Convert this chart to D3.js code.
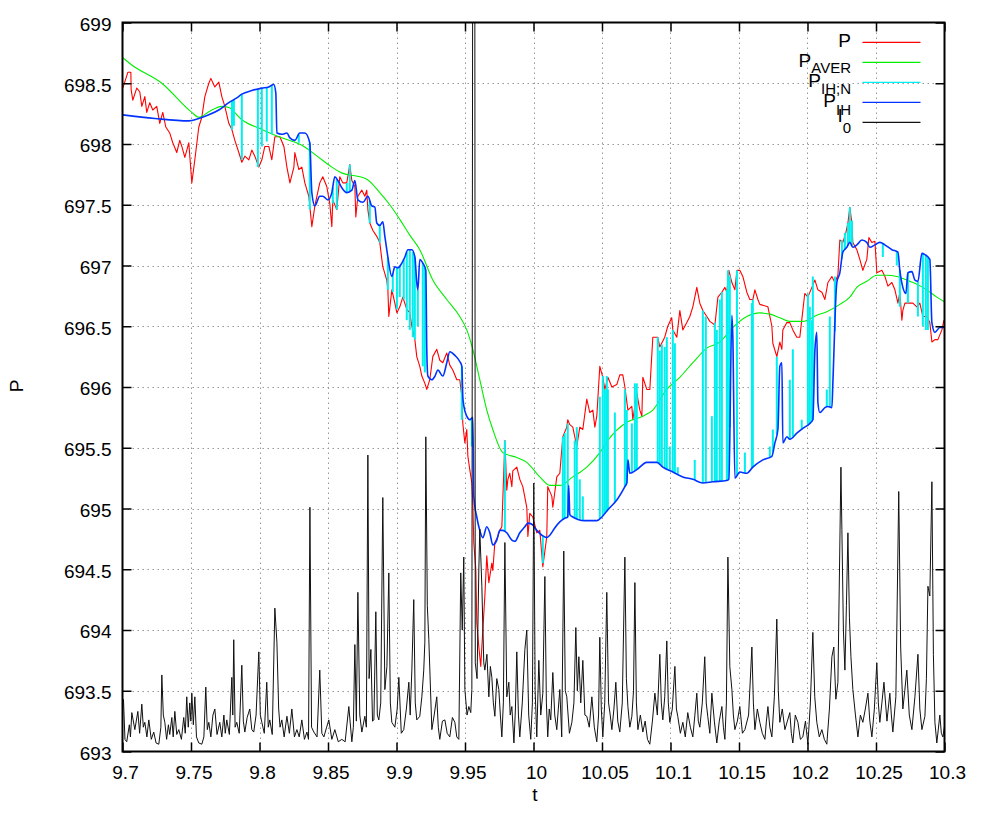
<!DOCTYPE html>
<html><head><meta charset="utf-8">
<script src="https://cdn.jsdelivr.net/npm/d3@7"></script>
<style>
body{margin:0;background:#fff}
svg{display:block}
text{font-family:"Liberation Sans",Arial,Helvetica,sans-serif}
</style>
</head><body><svg id="c" width="981" height="816"></svg>
<script>
// ---------------- data ----------------
const xTickValues = [9.7, 9.75, 9.8, 9.85, 9.9, 9.95, 10, 10.05, 10.1, 10.15, 10.2, 10.25, 10.3];
const xTickLabels = ["9.7","9.75","9.8","9.85","9.9","9.95","10","10.05","10.1","10.15","10.2","10.25","10.3"];
const yTickValues = [693, 693.5, 694, 694.5, 695, 695.5, 696, 696.5, 697, 697.5, 698, 698.5, 699];
const yTickLabels = ["693","693.5","694","694.5","695","695.5","696","696.5","697","697.5","698","698.5","699"];
const xLabel = "t";
const yLabel = "P";
const legendLabels = [["P",""],["P","AVER"],["P","IH;N"],["P","IH"],["I","0"]];

// P (red)
const seriesP = [
[9.7002,698.46],[9.7039,698.59],[9.7061,698.59],[9.7063,698.45],[9.7075,698.36],[9.7104,698.46],[9.7126,698.43],[9.7141,698.31],
[9.7163,698.39],[9.7177,698.26],[9.7199,698.34],[9.7221,698.28],[9.7250,698.31],[9.7272,698.17],[9.7294,698.26],[9.7316,698.14],
[9.7345,698.09],[9.7367,698.01],[9.7396,697.93],[9.7418,698.03],[9.7433,697.98],[9.7455,697.89],[9.7484,698.01],[9.7506,697.68],
[9.7528,697.87],[9.7557,698.14],[9.7579,698.22],[9.7601,698.39],[9.7630,698.50],[9.7645,698.54],[9.7674,698.47],[9.7703,698.51],
[9.7725,698.39],[9.7747,698.31],[9.7776,698.17],[9.7798,698.12],[9.7820,698.03],[9.7849,697.93],[9.7871,697.85],[9.7893,697.90],
[9.7922,697.87],[9.7944,697.95],[9.7966,697.90],[9.7995,697.81],[9.8017,697.87],[9.8039,697.98],[9.8068,697.98],[9.8090,697.87],
[9.8112,698.06],[9.8149,698.06],[9.8178,697.98],[9.8200,697.81],[9.8222,697.68],[9.8251,697.81],[9.8258,697.93],[9.8287,697.79],
[9.8309,697.81],[9.8331,697.68],[9.8360,697.57],[9.8382,697.32],[9.8404,697.49],[9.8440,697.68],[9.8462,697.73],[9.8491,697.65],
[9.8513,697.51],[9.8528,697.32],[9.8535,697.54],[9.8564,697.46],[9.8586,697.73],[9.8608,697.68],[9.8637,697.68],[9.8659,697.83],
[9.8674,697.70],[9.8696,697.65],[9.8703,697.40],[9.8718,697.57],[9.8747,697.62],[9.8769,697.57],[9.8783,697.62],[9.8791,697.46],
[9.8805,697.35],[9.8827,697.29],[9.8856,697.24],[9.8878,697.19],[9.8893,697.05],[9.8900,696.99],[9.8929,696.88],[9.8937,696.80],
[9.8944,696.58],[9.8966,696.80],[9.8988,696.69],[9.9003,696.61],[9.9024,696.66],[9.9046,696.74],[9.9075,696.64],[9.9097,696.61],
[9.9112,696.50],[9.9134,696.39],[9.9148,696.25],[9.9170,696.17],[9.9185,696.09],[9.9207,696.03],[9.9221,695.98],[9.9243,696.06],
[9.9265,696.25],[9.9294,696.31],[9.9316,696.22],[9.9338,696.20],[9.9367,696.28],[9.9389,696.18],[9.9411,696.14],[9.9440,696.06],
[9.9462,696.06],[9.9477,695.92],[9.9484,695.70],[9.9499,695.54],[9.9513,695.65],[9.9521,695.43],[9.9535,695.32],[9.9550,695.21],
[9.9557,695.05],[9.9564,694.72],[9.9579,694.50],[9.9586,694.06],[9.9601,693.86],[9.9615,693.70],[9.9630,694.00],[9.9645,694.28],
[9.9659,694.61],[9.9674,694.39],[9.9696,694.55],[9.9703,694.49],[9.9718,694.72],[9.9740,694.77],[9.9754,694.82],[9.9769,694.85],
[9.9791,695.56],[9.9805,695.15],[9.9813,695.24],[9.9827,695.29],[9.9842,695.18],[9.9849,695.31],[9.9878,695.34],[9.9900,695.24],
[9.9922,695.18],[9.9951,695.01],[9.9959,694.77],[9.9973,694.96],[9.9995,694.93],[10.0024,694.80],[10.0046,694.82],[10.0068,694.52],
[10.0097,694.77],[10.0104,695.18],[10.0134,695.10],[10.0141,695.01],[10.0155,695.13],[10.0170,695.26],[10.0192,695.29],[10.0214,695.59],
[10.0243,695.67],[10.0250,695.73],[10.0265,695.69],[10.0287,695.67],[10.0316,695.51],[10.0338,695.67],[10.0360,695.65],[10.0389,695.90],
[10.0411,695.79],[10.0433,695.81],[10.0448,695.67],[10.0462,695.76],[10.0484,696.17],[10.0506,696.08],[10.0521,695.98],[10.0543,696.08],
[10.0572,696.00],[10.0608,696.02],[10.0630,696.10],[10.0652,696.10],[10.0667,696.00],[10.0689,695.81],[10.0718,695.84],[10.0725,695.73],
[10.0754,695.95],[10.0776,695.81],[10.0791,695.76],[10.0798,696.08],[10.0827,695.98],[10.0849,695.98],[10.0871,696.41],[10.0907,696.41],
[10.0922,696.33],[10.0958,696.41],[10.0980,696.50],[10.1009,696.57],[10.1017,696.47],[10.1046,696.41],[10.1068,696.63],[10.1090,696.47],
[10.1119,696.53],[10.1141,696.58],[10.1163,696.66],[10.1192,696.82],[10.1214,696.69],[10.1236,696.63],[10.1265,696.58],[10.1287,696.54],
[10.1324,696.51],[10.1346,696.74],[10.1375,696.78],[10.1397,696.82],[10.1411,696.78],[10.1426,696.96],[10.1448,696.86],[10.1470,696.80],
[10.1485,696.96],[10.1506,696.96],[10.1528,696.91],[10.1557,696.78],[10.1579,696.72],[10.1601,696.72],[10.1616,696.80],[10.1638,696.72],
[10.1652,696.68],[10.1711,696.66],[10.1740,696.50],[10.1747,696.36],[10.1776,696.25],[10.1798,696.37],[10.1813,696.31],[10.1820,696.47],
[10.1849,696.53],[10.1871,696.53],[10.1893,696.47],[10.1922,696.41],[10.1944,696.41],[10.1958,696.55],[10.1980,696.77],[10.2003,696.74],
[10.2032,696.82],[10.2054,696.88],[10.2076,696.80],[10.2105,696.78],[10.2127,696.72],[10.2149,696.86],[10.2178,696.91],[10.2200,696.86],
[10.2222,696.92],[10.2236,697.21],[10.2258,697.19],[10.2280,697.27],[10.2295,697.35],[10.2309,697.48],[10.2324,697.35],[10.2331,697.19],
[10.2360,697.13],[10.2382,697.05],[10.2404,696.96],[10.2433,697.05],[10.2448,697.23],[10.2470,697.19],[10.2492,697.20],[10.2506,696.94],
[10.2543,696.96],[10.2565,696.91],[10.2587,696.83],[10.2616,696.86],[10.2638,696.80],[10.2660,696.69],[10.2674,696.78],[10.2689,696.55],
[10.2696,696.63],[10.2711,696.69],[10.2769,696.69],[10.2798,696.66],[10.2820,696.69],[10.2842,696.58],[10.2871,696.58],[10.2893,696.53],
[10.2908,696.37],[10.2930,696.39],[10.2952,696.39],[10.2981,696.47],[10.2996,696.55]
];

// P_AVER (green)
const seriesAver = [
[9.7002,698.71],[9.7068,698.65],[9.7287,698.50],[9.7506,698.26],[9.7557,698.22],[9.7637,698.27],[9.7725,698.31],[9.7776,698.30],
[9.7871,698.20],[9.8017,698.12],[9.8141,698.06],[9.8309,697.99],[9.8455,697.87],[9.8528,697.81],[9.8586,697.77],[9.8783,697.71],
[9.8878,697.60],[9.8951,697.50],[9.9024,697.38],[9.9097,697.25],[9.9170,697.13],[9.9265,696.88],[9.9367,696.72],[9.9462,696.58],
[9.9513,696.47],[9.9557,696.31],[9.9608,696.06],[9.9659,695.81],[9.9703,695.65],[9.9776,695.46],[9.9878,695.42],[9.9951,695.38],
[10.0046,695.26],[10.0119,695.19],[10.0192,695.19],[10.0287,695.26],[10.0389,695.34],[10.0484,695.46],[10.0542,695.56],[10.0681,695.71],
[10.0798,695.76],[10.0871,695.81],[10.0973,695.98],[10.1068,696.08],[10.1163,696.20],[10.1265,696.32],[10.1360,696.37],[10.1455,696.49],
[10.1557,696.58],[10.1652,696.61],[10.1725,696.60],[10.1798,696.57],[10.1871,696.54],[10.1966,696.54],[10.2068,696.59],[10.2141,696.62],
[10.2236,696.68],[10.2309,696.74],[10.2360,696.82],[10.2433,696.87],[10.2506,696.92],[10.2579,696.92],[10.2652,696.91],[10.2747,696.87],
[10.2842,696.82],[10.2944,696.74],[10.3002,696.70]
];

// P_IH (blue)
const seriesIH = [
[9.7002,698.24],[9.7236,698.21],[9.7484,698.19],[9.7557,698.21],[9.7630,698.24],[9.7703,698.28],[9.7776,698.34],[9.7834,698.38],
[9.7871,698.41],[9.7944,698.44],[9.8017,698.46],[9.8068,698.47],[9.8104,698.49],[9.8119,698.42],[9.8127,698.09],[9.8163,698.08],
[9.8200,698.09],[9.8222,698.05],[9.8258,698.03],[9.8294,698.09],[9.8331,698.09],[9.8367,698.01],[9.8382,697.60],[9.8404,697.49],
[9.8440,697.57],[9.8462,697.57],[9.8499,697.54],[9.8528,697.60],[9.8550,697.73],[9.8572,697.70],[9.8601,697.64],[9.8637,697.60],
[9.8674,697.62],[9.8696,697.70],[9.8718,697.54],[9.8755,697.52],[9.8791,697.57],[9.8820,697.49],[9.8842,697.48],[9.8856,697.35],
[9.8878,697.33],[9.8900,697.36],[9.8915,697.24],[9.8929,697.13],[9.8937,697.07],[9.8966,696.91],[9.8988,696.99],[9.9010,696.98],
[9.9039,697.02],[9.9061,697.07],[9.9083,697.13],[9.9112,697.13],[9.9134,697.07],[9.9148,696.86],[9.9156,696.80],[9.9170,697.05],
[9.9192,697.02],[9.9214,696.96],[9.9221,696.31],[9.9229,696.09],[9.9258,696.06],[9.9281,696.09],[9.9302,696.14],[9.9338,696.09],
[9.9367,696.20],[9.9389,696.29],[9.9426,696.26],[9.9462,696.21],[9.9477,696.17],[9.9484,695.92],[9.9492,695.84],[9.9513,695.76],
[9.9535,695.73],[9.9557,695.75],[9.9564,695.10],[9.9586,694.93],[9.9608,694.82],[9.9630,694.76],[9.9659,694.85],[9.9681,694.80],
[9.9703,694.70],[9.9732,694.74],[9.9754,694.82],[9.9776,694.82],[9.9805,694.80],[9.9842,694.74],[9.9864,694.73],[9.9900,694.80],
[9.9937,694.85],[9.9959,694.88],[9.9988,694.87],[10.0024,694.82],[10.0061,694.78],[10.0097,694.76],[10.0119,694.78],[10.0155,694.84],
[10.0192,694.89],[10.0228,694.92],[10.0250,694.93],[10.0257,695.19],[10.0265,694.95],[10.0287,694.93],[10.0324,694.91],[10.0375,694.90],
[10.0462,694.90],[10.0499,694.93],[10.0543,694.99],[10.0608,695.07],[10.0667,695.18],[10.0681,695.21],[10.0689,695.40],[10.0703,695.29],
[10.0754,695.32],[10.0827,695.38],[10.0900,695.38],[10.0944,695.34],[10.1017,695.30],[10.1090,695.26],[10.1163,695.24],[10.1236,695.21],
[10.1309,695.22],[10.1411,695.23],[10.1426,695.24],[10.1448,696.59],[10.1455,696.41],[10.1470,695.25],[10.1506,695.30],[10.1557,695.29],
[10.1601,695.34],[10.1674,695.40],[10.1740,695.43],[10.1762,695.54],[10.1784,695.65],[10.1798,696.17],[10.1813,696.20],[10.1820,695.54],
[10.1849,695.59],[10.1871,695.57],[10.1922,695.62],[10.1966,695.66],[10.2017,695.70],[10.2039,695.73],[10.2054,696.30],[10.2068,696.45],
[10.2076,695.87],[10.2090,695.79],[10.2127,695.83],[10.2149,695.84],[10.2178,695.83],[10.2185,696.03],[10.2214,696.86],[10.2236,696.94],
[10.2258,697.11],[10.2287,697.15],[10.2309,697.19],[10.2331,697.15],[10.2360,697.17],[10.2397,697.21],[10.2433,697.19],[10.2455,697.15],
[10.2492,697.17],[10.2528,697.19],[10.2565,697.17],[10.2616,697.13],[10.2660,697.11],[10.2674,696.96],[10.2696,696.82],[10.2718,696.77],
[10.2733,696.94],[10.2762,696.95],[10.2784,696.88],[10.2806,696.87],[10.2835,697.10],[10.2857,697.09],[10.2893,697.05],[10.2908,696.53],
[10.2930,696.45],[10.2966,696.49],[10.2996,696.49]
];

// P_IH;N (cyan): excursions away from P_IH, [t, end value]
const seriesIHN = [
[9.7799,698.12],[9.7813,698.15],[9.7871,697.87],[9.7988,697.81],[9.8017,697.98],[9.8053,698.02],[9.8090,698.08],[9.8287,698.01],
[9.8367,697.46],[9.8535,697.51],[9.8564,697.46],[9.8637,697.68],[9.8659,697.83],[9.8805,697.35],[9.8878,697.19],[9.8937,696.80],
[9.8973,696.78],[9.9003,696.64],[9.9024,696.74],[9.9053,696.72],[9.9075,696.55],[9.9097,696.47],[9.9119,696.41],[9.9134,696.39],
[9.9156,696.50],[9.9192,696.17],[9.9207,696.12],[9.9477,695.73],[9.9550,695.51],[9.9791,695.56],[10.0068,694.55],[10.0214,695.59],
[10.0228,695.62],[10.0250,695.70],[10.0301,695.56],[10.0316,695.67],[10.0338,695.24],[10.0360,695.10],[10.0484,695.92],[10.0506,696.09],
[10.0521,695.98],[10.0535,696.09],[10.0543,695.98],[10.0594,695.79],[10.0667,695.98],[10.0681,695.81],[10.0718,695.70],[10.0740,696.03],
[10.0754,696.03],[10.0907,696.41],[10.0922,696.30],[10.0937,696.35],[10.0958,696.33],[10.0973,696.41],[10.0995,695.51],[10.1017,696.47],
[10.1032,696.36],[10.1053,695.34],[10.1177,695.40],[10.1236,696.63],[10.1258,696.58],[10.1302,695.76],[10.1324,696.53],[10.1338,696.47],
[10.1360,696.72],[10.1375,696.78],[10.1411,696.80],[10.1419,696.96],[10.1433,696.91],[10.1485,696.96],[10.1543,695.46],[10.1594,696.69],
[10.1601,696.72],[10.1725,695.51],[10.1747,695.65],[10.1776,696.25],[10.1871,696.06],[10.1893,696.31],[10.1958,695.73],[10.2003,696.77],
[10.2017,696.66],[10.2032,696.55],[10.2039,696.91],[10.2141,695.98],[10.2163,696.58],[10.2200,696.91],[10.2251,697.21],[10.2273,697.27],
[10.2295,697.35],[10.2309,697.48],[10.2324,697.37],[10.2550,697.07],[10.2652,697.00],[10.2674,696.66],[10.2733,696.69],[10.2806,696.58],
[10.2842,696.50],[10.2864,696.47],[10.2879,696.47]
];

// I_0 (black)
const seriesI0 = [
[9.7007,693.43],[9.7018,693.10],[9.7031,693.08],[9.7050,693.22],[9.7058,693.12],[9.7068,693.32],[9.7090,693.18],[9.7112,693.33],
[9.7125,693.15],[9.7141,693.39],[9.7152,693.20],[9.7163,693.24],[9.7178,693.12],[9.7192,693.26],[9.7210,693.10],[9.7228,693.16],
[9.7245,693.07],[9.7265,693.06],[9.7280,693.20],[9.7287,693.63],[9.7298,693.30],[9.7309,693.24],[9.7322,693.10],[9.7335,693.22],
[9.7345,693.14],[9.7360,693.28],[9.7370,693.12],[9.7382,693.33],[9.7396,693.14],[9.7411,693.18],[9.7430,693.10],[9.7447,693.28],
[9.7458,693.15],[9.7469,693.45],[9.7480,693.20],[9.7491,693.40],[9.7499,693.25],[9.7506,693.48],[9.7517,693.22],[9.7528,693.45],
[9.7540,693.12],[9.7557,693.07],[9.7579,693.06],[9.7594,693.12],[9.7608,693.53],[9.7619,693.18],[9.7630,693.24],[9.7645,693.12],
[9.7660,693.30],[9.7674,693.35],[9.7690,693.14],[9.7710,693.24],[9.7725,693.12],[9.7740,693.30],[9.7750,693.15],[9.7761,693.26],
[9.7780,693.14],[9.7798,693.61],[9.7805,693.30],[9.7812,693.92],[9.7822,693.20],[9.7834,693.24],[9.7852,693.15],[9.7871,693.71],
[9.7882,693.25],[9.7893,693.16],[9.7910,693.28],[9.7929,693.35],[9.7944,693.18],[9.7958,693.16],[9.7975,693.30],[9.7995,693.82],
[9.8006,693.30],[9.8017,693.24],[9.8035,693.15],[9.8053,693.57],[9.8064,693.20],[9.8075,693.26],[9.8093,693.14],[9.8112,694.18],
[9.8127,693.90],[9.8140,693.35],[9.8150,693.20],[9.8163,693.26],[9.8180,693.12],[9.8200,693.29],[9.8218,693.15],[9.8236,693.35],
[9.8255,693.12],[9.8273,693.18],[9.8290,693.12],[9.8309,693.26],[9.8328,693.10],[9.8346,693.16],[9.8358,693.10],[9.8368,695.01],
[9.8380,693.20],[9.8397,693.16],[9.8420,693.12],[9.8440,693.67],[9.8455,693.15],[9.8470,693.12],[9.8490,693.20],[9.8506,693.26],
[9.8528,693.10],[9.8550,693.18],[9.8575,693.08],[9.8601,693.10],[9.8625,693.08],[9.8652,693.37],[9.8674,693.08],[9.8685,693.20],
[9.8696,693.88],[9.8707,693.25],[9.8718,694.31],[9.8732,693.30],[9.8747,693.16],[9.8769,693.29],[9.8780,693.20],[9.8791,695.44],
[9.8800,693.60],[9.8813,693.84],[9.8825,693.25],[9.8835,693.26],[9.8849,694.15],[9.8860,693.30],[9.8871,693.26],[9.8885,693.40],
[9.8900,695.09],[9.8915,693.51],[9.8930,693.70],[9.8944,694.47],[9.8955,693.40],[9.8966,693.24],[9.8988,693.20],[9.9005,693.35],
[9.9017,693.61],[9.9035,693.15],[9.9053,693.18],[9.9072,693.35],[9.9090,693.57],[9.9100,693.30],[9.9112,693.67],[9.9126,694.25],
[9.9137,693.40],[9.9148,693.26],[9.9170,693.29],[9.9185,693.45],[9.9199,693.67],[9.9207,693.90],[9.9214,695.59],[9.9225,694.20],
[9.9236,693.92],[9.9258,693.18],[9.9275,693.30],[9.9294,693.45],[9.9305,693.20],[9.9316,693.10],[9.9335,693.25],[9.9353,693.26],
[9.9370,693.15],[9.9389,693.12],[9.9408,693.28],[9.9426,693.24],[9.9440,693.12],[9.9455,693.10],[9.9469,694.47],[9.9480,694.00],
[9.9491,694.60],[9.9499,693.51],[9.9515,693.30],[9.9528,693.37],[9.9542,693.32],[9.9550,693.51],[9.9557,700.50],[9.9571,700.50],
[9.9575,693.73],[9.9588,693.60],[9.9601,694.50],[9.9608,694.83],[9.9623,694.36],[9.9637,693.73],[9.9645,693.67],[9.9660,693.80],
[9.9674,693.45],[9.9685,693.70],[9.9696,693.61],[9.9707,693.40],[9.9718,693.29],[9.9732,693.60],[9.9747,693.51],[9.9758,693.30],
[9.9769,693.12],[9.9780,693.40],[9.9791,694.72],[9.9805,693.45],[9.9820,693.57],[9.9830,693.30],[9.9842,693.37],[9.9857,693.07],
[9.9868,693.35],[9.9878,693.82],[9.9890,693.30],[9.9900,693.12],[9.9918,693.40],[9.9937,693.84],[9.9951,694.00],[9.9965,693.30],
[9.9980,693.10],[9.9992,693.40],[10.0002,695.21],[10.0012,693.50],[10.0024,693.12],[10.0039,693.75],[10.0053,693.30],[10.0068,693.48],
[10.0083,694.44],[10.0094,693.40],[10.0104,693.12],[10.0115,693.35],[10.0126,693.26],[10.0141,693.65],[10.0155,693.30],[10.0170,693.18],
[10.0181,693.35],[10.0192,693.51],[10.0206,693.12],[10.0221,694.65],[10.0232,693.50],[10.0243,693.45],[10.0262,693.15],[10.0280,693.24],
[10.0295,693.40],[10.0309,694.02],[10.0320,693.50],[10.0331,693.78],[10.0345,693.40],[10.0360,693.75],[10.0375,693.30],[10.0389,693.29],
[10.0407,693.20],[10.0426,693.45],[10.0444,693.20],[10.0462,693.08],[10.0475,693.30],[10.0484,693.94],[10.0495,693.35],[10.0506,693.12],
[10.0520,693.40],[10.0535,694.31],[10.0548,693.40],[10.0560,693.30],[10.0572,693.18],[10.0587,693.35],[10.0601,693.57],[10.0615,693.25],
[10.0630,693.16],[10.0648,693.40],[10.0667,694.60],[10.0678,693.60],[10.0689,693.37],[10.0703,693.20],[10.0718,693.29],[10.0730,693.50],
[10.0740,694.39],[10.0751,693.40],[10.0762,693.18],[10.0780,693.30],[10.0798,693.16],[10.0815,693.25],[10.0832,693.10],[10.0849,693.06],
[10.0868,693.25],[10.0886,693.48],[10.0904,693.30],[10.0922,693.80],[10.0933,693.40],[10.0944,693.26],[10.0958,693.45],[10.0973,693.91],
[10.0984,693.40],[10.0995,693.24],[10.1013,693.35],[10.1032,693.70],[10.1043,693.35],[10.1053,693.29],[10.1072,693.15],[10.1090,693.24],
[10.1108,693.12],[10.1126,693.32],[10.1145,693.20],[10.1163,693.12],[10.1178,693.30],[10.1192,693.48],[10.1203,693.25],[10.1214,693.20],
[10.1232,693.40],[10.1250,693.78],[10.1261,693.40],[10.1272,693.29],[10.1287,693.15],[10.1302,693.48],[10.1320,693.25],[10.1338,693.07],
[10.1356,693.25],[10.1375,693.37],[10.1386,693.20],[10.1397,693.10],[10.1408,693.40],[10.1419,694.60],[10.1433,693.70],[10.1448,693.51],
[10.1459,693.30],[10.1470,693.18],[10.1488,693.25],[10.1506,693.37],[10.1525,693.15],[10.1543,693.18],[10.1570,693.30],[10.1594,693.86],
[10.1605,693.40],[10.1616,693.18],[10.1634,693.35],[10.1652,693.24],[10.1670,693.15],[10.1689,693.10],[10.1700,693.25],[10.1711,693.37],
[10.1725,693.20],[10.1740,693.12],[10.1758,693.45],[10.1776,694.09],[10.1787,693.50],[10.1798,693.24],[10.1816,693.35],[10.1835,693.18],
[10.1853,693.25],[10.1871,693.32],[10.1882,693.15],[10.1893,693.07],[10.1911,693.30],[10.1930,693.24],[10.1948,693.10],[10.1966,693.12],
[10.1985,693.25],[10.2003,693.06],[10.2021,693.40],[10.2039,693.98],[10.2053,693.45],[10.2068,693.24],[10.2086,693.12],[10.2105,693.18],
[10.2123,693.10],[10.2141,693.06],[10.2160,693.35],[10.2178,693.78],[10.2192,693.86],[10.2207,693.43],[10.2222,693.57],[10.2244,695.34],
[10.2251,694.83],[10.2262,694.00],[10.2273,693.67],[10.2284,694.20],[10.2295,694.80],[10.2306,694.10],[10.2317,693.78],[10.2331,693.51],
[10.2350,693.30],[10.2368,693.12],[10.2386,693.30],[10.2404,693.24],[10.2422,693.35],[10.2441,693.48],[10.2455,693.25],[10.2470,693.12],
[10.2488,693.35],[10.2506,693.73],[10.2517,693.40],[10.2528,693.24],[10.2543,693.40],[10.2558,693.57],[10.2580,693.25],[10.2601,693.48],
[10.2612,693.30],[10.2623,693.16],[10.2645,693.45],[10.2666,695.14],[10.2680,693.86],[10.2696,693.35],[10.2710,693.50],[10.2725,693.67],
[10.2743,693.30],[10.2762,693.18],[10.2784,693.45],[10.2806,693.80],[10.2820,693.35],[10.2835,693.18],[10.2857,693.29],[10.2868,693.60],
[10.2879,694.36],[10.2893,694.28],[10.2908,695.22],[10.2919,693.80],[10.2930,693.24],[10.2944,693.07],[10.2966,693.30],[10.2977,693.15],
[10.2988,693.12],[10.3002,693.22]
];

// ---------------- drawing ----------------
const svg = d3.select("#c");
const L = 122.5, R = 944.5, T = 22.5, B = 751.5;
const x = d3.scaleLinear().domain([9.7, 10.3]).range([L, R]);
const y = d3.scaleLinear().domain([693, 699]).range([B, T]);
const FONT = '"Liberation Sans", Arial, Helvetica, sans-serif';

svg.append("rect").attr("width", 981).attr("height", 816).attr("fill", "#fff");

svg.append("defs").append("clipPath").attr("id", "clip")
  .append("rect").attr("x", L).attr("y", T).attr("width", R - L).attr("height", B - T);

// grid
const grid = svg.append("g").attr("stroke", "#999").attr("stroke-width", 1).attr("stroke-dasharray", "1.5,3.5");
xTickValues.slice(1, -1).forEach(v => {
  grid.append("line").attr("x1", Math.round(x(v)) + 0.5).attr("x2", Math.round(x(v)) + 0.5).attr("y1", T).attr("y2", B);
});
yTickValues.slice(1, -1).forEach(v => {
  grid.append("line").attr("y1", Math.round(y(v)) + 0.5).attr("y2", Math.round(y(v)) + 0.5).attr("x1", L).attr("x2", R);
});

const plot = svg.append("g").attr("clip-path", "url(#clip)");
const line = d3.line().x(d => x(d[0])).y(d => y(d[1]));
const smooth = d3.line().curve(d3.curveMonotoneX).x(d => x(d[0])).y(d => y(d[1]));

// P red
plot.append("path").datum(seriesP).attr("d", line).attr("fill", "none").attr("stroke", "#ff0000").attr("stroke-width", 1.1).attr("stroke-linejoin", "round");
// P_AVER green
plot.append("path").datum(seriesAver).attr("d", smooth).attr("fill", "none").attr("stroke", "#00ee00").attr("stroke-width", 1.1);

// P_IH;N cyan excursions from P_IH
function ihAt(t) {
  const i = d3.bisector(d => d[0]).left(seriesIH, t);
  if (i <= 0) return seriesIH[0][1];
  if (i >= seriesIH.length) return seriesIH[seriesIH.length - 1][1];
  const a = seriesIH[i - 1], b = seriesIH[i];
  return a[1] + (b[1] - a[1]) * (t - a[0]) / (b[0] - a[0]);
}
plot.append("g").selectAll("line").data(seriesIHN).join("line")
  .attr("x1", d => x(d[0])).attr("x2", d => x(d[0]))
  .attr("y1", d => y(ihAt(d[0]))).attr("y2", d => y(d[1]))
  .attr("stroke", "#00f0f0").attr("stroke-width", 2);

// P_IH blue
plot.append("path").datum(seriesIH).attr("d", smooth).attr("fill", "none").attr("stroke", "#0033ff").attr("stroke-width", 1.6);

// I_0 black
plot.append("path").datum(seriesI0).attr("d", line).attr("fill", "none").attr("stroke", "#111").attr("stroke-width", 1);

// axes
const fs = 19;
const axB = d3.axisBottom(x).tickValues(xTickValues).tickFormat((d, i) => xTickLabels[i]).tickSize(-9).tickPadding(14);
const axL = d3.axisLeft(y).tickValues(yTickValues).tickFormat((d, i) => yTickLabels[i]).tickSize(-9).tickPadding(11);
const axT = d3.axisTop(x).tickValues(xTickValues).tickFormat("").tickSize(-9);
const axR = d3.axisRight(y).tickValues(yTickValues).tickFormat("").tickSize(-9);
function style(g) {
  g.select(".domain").remove();
  g.selectAll(".tick line").attr("stroke", "#000").attr("stroke-width", 1.5);
  g.selectAll("text").attr("font-size", fs).attr("fill", "#000").attr("font-family", FONT);
}
svg.append("g").attr("transform", `translate(0,${B})`).call(axB).call(style).selectAll("text").attr("dx", 2.5);
svg.append("g").attr("transform", `translate(${L},0)`).call(axL).call(style).selectAll("text").attr("dy", "0.42em");
svg.append("g").attr("transform", `translate(0,${T})`).call(axT).call(style);
svg.append("g").attr("transform", `translate(${R},0)`).call(axR).call(style);

// border
svg.append("rect").attr("x", L).attr("y", T).attr("width", R - L).attr("height", B - T)
  .attr("fill", "none").attr("stroke", "#000").attr("stroke-width", 2);

// axis labels
svg.append("text").attr("x", 535).attr("y", 801).attr("text-anchor", "middle").attr("font-size", 19).text(xLabel);
svg.append("text").attr("transform", "translate(22.5,386) rotate(-90)").attr("text-anchor", "middle").attr("font-size", 19).text(yLabel);

// legend
const legendColors = ["#ff0000", "#00ee00", "#00f0f0", "#0033ff", "#111"];
const legendRowY = [42.3, 62.3, 82.3, 102.3, 122.3];
const legendMainDy = [5, 4.4, 4.4, 5, -0.5];
const legendSubDy = [0, 6.6, 7.5, 7.8, 11.5];
legendLabels.forEach((lab, i) => {
  const yy = legendRowY[i];
  svg.append("line").attr("x1", 862.5).attr("x2", 920.5).attr("y1", yy).attr("y2", yy)
    .attr("stroke", legendColors[i]).attr("stroke-width", 1.3);
  const t = svg.append("text").attr("x", 851).attr("y", yy + legendMainDy[i]).attr("text-anchor", "end").attr("font-size", 19);
  t.append("tspan").text(lab[0]);
  if (lab[1]) t.append("tspan").attr("font-size", 15).attr("dy", legendSubDy[i]).text(lab[1]);
});
</script>
</body></html>
